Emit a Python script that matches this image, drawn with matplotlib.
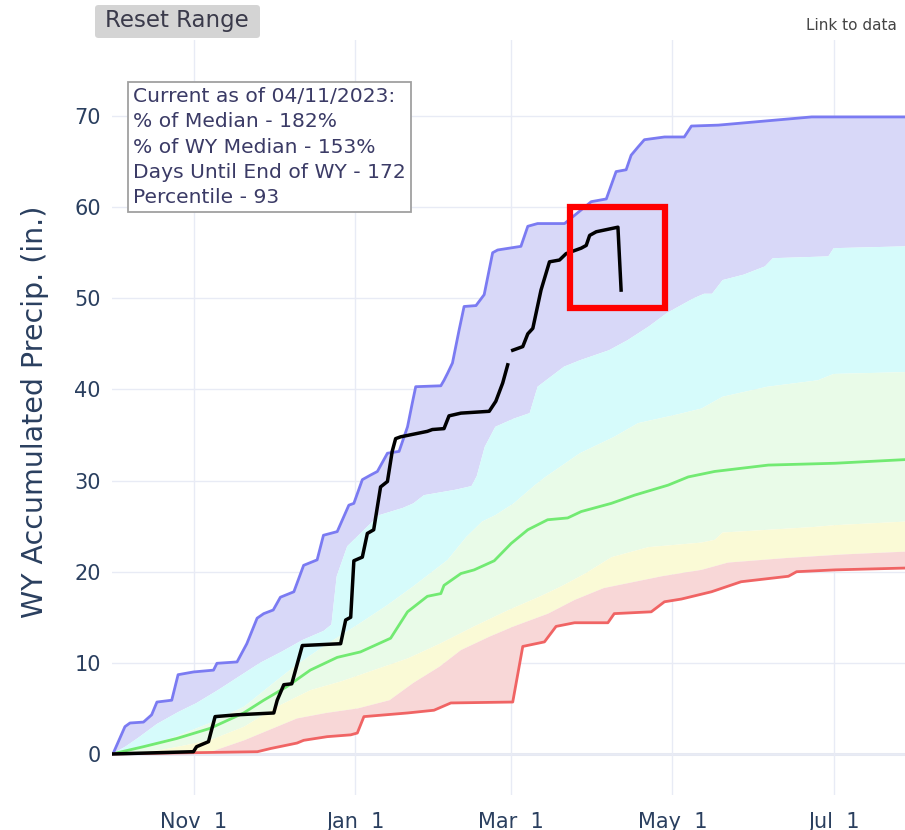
#!/usr/bin/env python
# WY accumulated precipitation chart (percentile bands + current year)
import numpy as np
import matplotlib.pyplot as plt
import matplotlib.dates as mdates
from matplotlib.patches import FancyBboxPatch, Rectangle

# start of water year, x values below are days since this date
wy_start = mdates.date2num(np.datetime64('2022-10-01'))

# max (top of purple band)
max_day = [0, 0.5, 4.9, 6.8, 11.9, 15, 17, 22.6, 25, 30.8, 38.4, 39.7, 47.3, 51, 54.9, 57.4, 61,
           63.7, 68.8, 72.5, 77.6, 80, 85.2, 89.6, 91.5, 94.7, 97.8, 100.4, 104.2, 108.6, 111.8,
           113.6, 114.9, 124.4, 125.6, 127, 128.8, 131.3, 133.2, 137.7, 140.8, 144, 145.9, 154.7,
           157.3, 161, 171.2, 181.3, 187, 190.7, 194.5, 196.4, 199, 201.4, 209, 216.5, 219.2,
           229.4, 264.7, 300]
max_val = [0, 0.1, 3.0, 3.4, 3.5, 4.3, 5.7, 5.9, 8.7, 9.0, 9.2, 9.95, 10.1, 12.1, 14.9, 15.4, 15.8,
           17.2, 17.8, 20.7, 21.3, 24.0, 24.4, 27.3, 27.5, 30.1, 30.6, 31.0, 33.0, 33.2, 35.9,
           38.5, 40.3, 40.4, 41.0, 41.8, 42.9, 46.5, 49.1, 49.2, 50.4, 55.0, 55.3, 55.7,
           57.9, 58.2, 58.2, 60.6, 60.9, 63.9, 64.1, 65.7, 66.6, 67.4, 67.7, 67.7, 68.9,
           69.0, 69.9, 69.9]

# 90th percentile (purple / cyan edge)
p90_day = [0, 5, 10, 17, 25, 32, 40, 48, 56, 64, 72, 80, 83, 85, 89, 95, 101, 110, 114, 118, 130,
           136, 138, 141, 145, 152, 158, 161, 171, 177, 188, 195, 203, 210, 220, 224, 227, 231,
           239, 247, 250, 271, 273, 300]
p90_val = [0, 0.8, 1.8, 3.3, 4.6, 5.6, 7.0, 8.5, 10.0, 11.2, 12.5, 13.5, 14.2, 19.5, 22.8, 24.5,
           26.2, 27.0, 27.5, 28.4, 29.0, 29.4, 30.5, 33.7, 35.9, 36.8, 37.4, 40.3, 42.5, 43.2,
           44.3, 45.4, 46.9, 48.4, 50.0, 50.5, 50.5, 52.0, 52.6, 53.5, 54.4, 54.6, 55.5, 55.7]

# 70th percentile (cyan / light green edge)
p70_day = [0, 12, 24, 37, 50, 62, 69, 81, 93, 104, 114, 127, 134, 140, 145, 152, 160, 164, 177,
           190, 199, 213, 223, 231, 248, 267, 273, 300]
p70_val = [0, 0.8, 1.9, 3.4, 5.2, 8.0, 9.6, 12.0, 14.2, 16.3, 18.4, 21.3, 23.8, 25.5, 26.2, 27.5,
           29.5, 30.4, 33.0, 34.8, 36.3, 37.2, 37.9, 39.2, 40.3, 41.0, 41.7, 41.9]

# median (green line)
med_day = [0, 11.9, 24.5, 37, 49.8, 57.4, 66.2, 75, 85.2, 94, 105.4, 111.8, 119.3, 124.4, 125.6,
           132, 137, 144.6, 151, 157.3, 164.8, 172.4, 177.5, 188.9, 197.7, 210.4, 218, 228, 248.3,
           273.5, 300]
med_val = [0, 0.8, 1.7, 2.8, 4.5, 5.9, 7.4, 9.2, 10.6, 11.2, 12.7, 15.6, 17.3, 17.6, 18.5,
           19.8, 20.2, 21.2, 23.1, 24.6, 25.7, 25.9, 26.6, 27.5, 28.4, 29.5, 30.4, 31.0, 31.7,
           31.9, 32.3]

# 30th percentile (light green / yellow edge)
p30_day = [0, 18, 37, 50, 62.5, 75, 87, 99, 112, 124, 137, 150, 162, 170, 179, 189, 203, 223,
           228, 231, 265, 273, 300]
p30_val = [0, 0.4, 1.5, 3.0, 5.2, 7.0, 8.0, 9.2, 10.5, 12.1, 14.0, 15.8, 17.3, 18.4, 19.8, 21.6,
           22.7, 23.2, 23.5, 24.3, 24.9, 25.1, 25.5]

# 10th percentile (yellow / pink edge)
p10_day = [0, 37, 50, 62.5, 70, 81, 93, 105, 114, 124, 132, 143, 152, 165, 175, 186, 208, 223,
           233, 255, 277, 300]
p10_val = [0, 0.2, 1.5, 3.0, 3.9, 4.5, 5.0, 5.9, 7.8, 9.6, 11.4, 12.9, 14.0, 15.4, 16.9, 18.2,
           19.5, 20.2, 21.0, 21.5, 21.9, 22.2]

# min (red line)
min_day = [0, 55, 60, 70, 72.5, 81.4, 90.3, 92.8, 95.3, 111.8, 121.8, 128.2, 151.6, 155.4, 163.6,
           168, 175, 187.6, 190, 204, 209, 215.4, 226.8, 238, 255.9, 259, 273.5, 300]
min_val = [0, 0.25, 0.6, 1.2, 1.5, 1.9, 2.1, 2.3, 4.1, 4.5, 4.8, 5.6, 5.7, 11.8, 12.3,
           14.0, 14.4, 14.4, 15.4, 15.6, 16.7, 17.0, 17.8, 18.9, 19.5, 20.0, 20.2, 20.4]

# current water year (black), nan = missing data
cur_day = [0, 30.8, 32, 36.5, 39, 47.3, 61.2, 62.5, 65, 68, 72, 86.5, 88.4, 90.3, 91.5, 94.7,
           96.6, 99, 101.6, 104.2, 106, 107.3, 109.2, 119.3, 121.2, 125.6, 127.5, 132, 142.7,
           145.2, 147.8, 149.7, np.nan, 151.6, 155.4, 157.3, 159.2, 162.3, 165.5, 169.3, 171.8,
           177.5, 179.4, 180.7, 183.2, 191.4, 192.6]
cur_val = [0, 0.25, 0.8, 1.35, 4.1, 4.3, 4.5, 5.9, 7.6, 7.7, 11.9, 12.1, 14.7, 15.0, 21.2, 21.6,
           24.2, 24.6, 29.3, 29.9, 33.2, 34.6, 34.8, 35.4, 35.6, 35.7, 37.1, 37.4, 37.6,
           38.7, 40.7, 42.7, np.nan, 44.3, 44.7, 46.1, 46.7, 50.9, 54.0, 54.2, 54.9,
           55.5, 55.8, 56.9, 57.3, 57.8, 50.9]

info_lines = ['Current as of 04/11/2023:', '% of Median - 182%', '% of WY Median - 153%',
              'Days Until End of WY - 172', 'Percentile - 93']

txt = '#2a3f5f'
W, H = 905, 830


def xd(days):
    return wy_start + np.asarray(days, dtype=float)


fig = plt.figure(figsize=(W / 100, H / 100), dpi=100)
ax = fig.add_axes([112 / W, (H - 795) / H, (W - 112) / W, 755 / H])

# bands, as polygons: upper edge forward, lower edge back
bands = [(max_day, max_val, p90_day, p90_val, '#d8d8f8'),
         (p90_day, p90_val, p70_day, p70_val, '#d6fbfb'),
         (p70_day, p70_val, p30_day, p30_val, '#e9fbe8'),
         (p30_day, p30_val, p10_day, p10_val, '#fafad6'),
         (p10_day, p10_val, min_day, min_val, '#f8d7d7')]
for ud, uv, ld, lv, c in bands:
    px = np.r_[xd(ud), xd(ld)[::-1]]
    py = np.r_[uv, lv[::-1]]
    ax.fill(px, py, color=c, lw=0, zorder=1)

ax.plot(xd(med_day), med_val, color='#72ea72', lw=2, zorder=3)
ax.plot(xd(max_day), max_val, color='#7b7bf2', lw=2, zorder=3)
ax.plot(xd(min_day), min_val, color='#f06464', lw=2, zorder=3)
ax.plot(xd(cur_day), cur_val, color='black', lw=2.5, zorder=4)

ax.set_xlim(xd(0), xd(300))
ax.set_ylim(-4.5, 78.34)
ax.set_yticks(np.arange(0, 80, 10))
ax.xaxis.set_major_locator(mdates.MonthLocator(bymonth=[11, 1, 3, 5, 7]))
ax.xaxis.set_major_formatter(plt.FuncFormatter(
    lambda v, _: mdates.num2date(v).strftime('%b') + '  ' + str(mdates.num2date(v).day)))

ax.grid(color='#e8ebf5', lw=1, zorder=0)
ax.axhline(0, color='#e6e9f2', lw=2.2, zorder=0)
ax.set_axisbelow(True)
for s in ax.spines.values():
    s.set_visible(False)
ax.tick_params(length=0, labelsize=15, labelcolor=txt)
ax.tick_params(axis='x', pad=12)
ax.tick_params(axis='y', pad=8)

fig.text(35 / W, 1 - 412 / H, 'WY Accumulated Precip. (in.)', rotation=90, ha='center',
         va='center', fontsize=20.5, color=txt)

# info box
fig.text(133 / W, 1 - 87 / H, '\n'.join(info_lines), ha='left', va='top', fontsize=14.6,
         color='#3b3b66', linespacing=1.42,
         bbox=dict(boxstyle='square,pad=0.25', fc='white', ec='#a0a0a0', lw=1.3))

# reset button
fig.patches.append(FancyBboxPatch((95 / W, 1 - 38 / H), 165 / W, 33 / H,
                                  boxstyle='round,pad=0,rounding_size=0.004',
                                  transform=fig.transFigure, fc='#d4d4d4', ec='none'))
fig.text(177 / W, 1 - 21 / H, 'Reset Range', ha='center', va='center', fontsize=16.5,
         color='#3a3a4a')
fig.text(806 / W, 1 - 26 / H, 'Link to data', ha='left', va='center', fontsize=11,
         color='#444444')

# highlight rectangle
fig.patches.append(Rectangle((570 / W, 1 - 308 / H), 95 / W, 101 / H,
                             transform=fig.transFigure, fill=False, ec='#ff0000', lw=4.5,
                             zorder=10))

fig.savefig('out.png', dpi=100, facecolor='white')
